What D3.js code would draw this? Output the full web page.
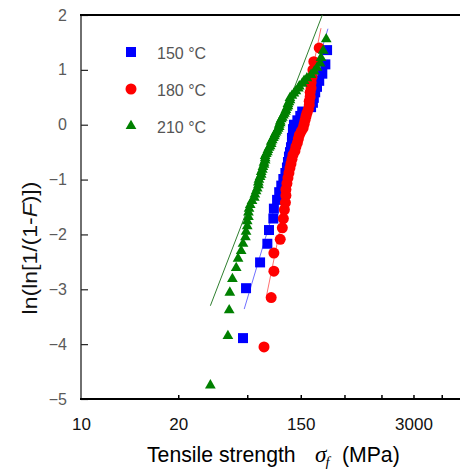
<!DOCTYPE html>
<html>
<head>
<meta charset="utf-8">
<script src="https://cdn.jsdelivr.net/npm/d3@7"></script>
<style>
	body { margin: 0; background: #fff; }
	svg text { font-family: "Liberation Sans", Arial, sans-serif; }
</style>
</head>
<body>
<div id="chart"></div>
<script>
// Weibull plot of tensile strength, one series per temperature.
// strengths in MPa (sorted), plotting positions ln(ln[1/(1-F)])
const series_names = ["150 °C", "180 °C", "210 °C"];
const series_colors = ["#0000ff", "#ff0000", "#008000"];
const line_colors = ["#7070ff", "#ff7070", "#2f7f2f"];

const strength_150 = [393, 398, 422, 435, 438, 446, 447, 453, 457, 461,
	465, 469, 472, 474, 476, 478, 480, 482, 482, 484,
	484, 486, 493, 499, 503, 522, 526, 528, 531, 535,
	540, 547, 554, 558];
const lnln_150 = [-3.89, -2.98, -2.51, -2.17, -1.92, -1.71, -1.53, -1.37, -1.23, -1.11,
	-0.99, -0.88, -0.78, -0.68, -0.58, -0.50, -0.41, -0.33, -0.24, -0.16,
	-0.08, 0.00, 0.08, 0.16, 0.24, 0.32, 0.40, 0.49, 0.59, 0.69,
	0.80, 0.93, 1.10, 1.36];

const strength_180 = [429, 442, 447, 447, 459, 463, 465, 467, 469, 470,
	470, 472, 474, 476, 478, 480, 482, 484, 488, 490,
	493, 495, 497, 501, 505, 507, 509, 511, 513, 516,
	518, 518, 520, 520, 522, 522, 524, 526, 528, 540];
const lnln_180 = [-4.05, -3.15, -2.67, -2.34, -2.09, -1.88, -1.71, -1.55, -1.42, -1.29,
	-1.18, -1.07, -0.97, -0.88, -0.79, -0.71, -0.63, -0.55, -0.48, -0.40,
	-0.33, -0.26, -0.19, -0.12, -0.06, 0.01, 0.08, 0.15, 0.21, 0.28,
	0.36, 0.43, 0.51, 0.59, 0.67, 0.77, 0.87, 1.00, 1.15, 1.40];

const strength_210 = [343, 369, 371, 372, 376, 382, 385, 390, 393, 397,
	398, 400, 400, 402, 402, 403, 405, 408, 412, 413,
	415, 417, 419, 419, 420, 422, 424, 424, 426, 427,
	429, 429, 431, 431, 431, 433, 435, 436, 438, 440,
	442, 442, 444, 446, 448, 449, 451, 453, 455, 457,
	457, 459, 459, 461, 463, 465, 467, 469, 470, 472,
	474, 474, 476, 478, 478, 482, 486, 490, 495, 497,
	503, 507, 513, 522, 529, 535, 542, 544, 549, 556];
const lnln_210 = [-4.75, -3.85, -3.38, -3.06, -2.81, -2.61, -2.44, -2.30, -2.17, -2.05,
	-1.95, -1.85, -1.76, -1.68, -1.60, -1.53, -1.46, -1.39, -1.33, -1.27,
	-1.21, -1.16, -1.10, -1.05, -1.00, -0.95, -0.91, -0.86, -0.82, -0.77,
	-0.73, -0.69, -0.65, -0.61, -0.57, -0.53, -0.50, -0.46, -0.42, -0.39,
	-0.35, -0.31, -0.28, -0.24, -0.21, -0.17, -0.14, -0.11, -0.07, -0.04,
	0.00, 0.03, 0.06, 0.10, 0.13, 0.17, 0.20, 0.24, 0.27, 0.31,
	0.34, 0.38, 0.41, 0.45, 0.49, 0.53, 0.57, 0.61, 0.66, 0.70,
	0.75, 0.80, 0.85, 0.91, 0.97, 1.04, 1.12, 1.22, 1.35, 1.56];

// fitted Weibull lines, end points
const fit_150_x = [395, 560];
const fit_150_y = [-3.36, 1.75];
const fit_180_x = [433, 544];
const fit_180_y = [-3.14, 1.76];
const fit_210_x = [343, 547];
const fit_210_y = [-3.30, 2.00];

// axes
const y_ticks = [2, 1, 0, -1, -2, -3, -4, -5];
const x_minor_ticks = [300, 400, 500, 600, 700, 800, 900];
const x_label_values = [200, 300, 500, 800];
const x_tick_labels = ["10", "20", "150", "3000"];

class weibull_chart {
	constructor(opts) {
		this.element = opts.element;
		this.w = 460;
		this.h = 469;
		this.left = 81;
		this.right = 467;   // right frame is just past the picture edge
		this.top = 15;
		this.bottom = 399;
		this.init();
	}

	init() {
		this.svg = d3.select(this.element).append("svg")
			.attr("width", this.w)
			.attr("height", this.h);

		this.svg.append("defs").append("clipPath")
			.attr("id", "plot_clip")
			.append("rect")
			.attr("x", this.left)
			.attr("y", this.top)
			.attr("width", this.right - this.left)
			.attr("height", this.bottom - this.top);

		this.create_scales();
		this.create_axes();
		this.create_lines();
		this.create_points();
		this.create_legend();
		this.create_titles();
	}

	create_scales() {
		this.x_scale = d3.scaleLog()
			.domain([200, 1000])
			.range([this.left, this.right]);
		this.y_scale = d3.scaleLinear()
			.domain([-5, 2])
			.range([this.bottom, this.top]);
	}

	create_axes() {
		// y axis, ticks pointing in
		const y_axis = this.svg.append("g")
			.attr("class", "y axis")
			.attr("transform", `translate(${this.left},0)`)
			.call(d3.axisLeft(this.y_scale)
				.tickValues(y_ticks)
				.tickSizeInner(-7)
				.tickSizeOuter(0)
				.tickPadding(14)
				.tickFormat(d3.format("d")));
		y_axis.select(".domain").remove();
		y_axis.selectAll("line").attr("stroke", "#222").attr("stroke-width", 1.2);
		y_axis.selectAll("text")
			.attr("font-size", 16)
			.attr("fill", "#5a5a5a")
			.attr("font-family", "Liberation Sans, Arial, sans-serif");

		// x axis minor ticks, pointing in
		const x_axis = this.svg.append("g")
			.attr("class", "x axis")
			.attr("transform", `translate(0,${this.bottom})`)
			.call(d3.axisBottom(this.x_scale)
				.tickValues(x_minor_ticks)
				.tickSizeInner(-4)
				.tickSizeOuter(0)
				.tickFormat(""));
		x_axis.select(".domain").remove();
		x_axis.selectAll("line").attr("stroke", "#000").attr("stroke-width", 1.5);

		// x labels
		const x_labels = this.svg.append("g")
			.attr("class", "x labels")
			.attr("transform", `translate(0,${this.bottom})`)
			.call(d3.axisBottom(this.x_scale)
				.tickValues(x_label_values)
				.tickSize(0)
				.tickPadding(19)
				.tickFormat((d, i) => x_tick_labels[i]));
		x_labels.select(".domain").remove();
		x_labels.selectAll("text")
			.attr("font-size", 17)
			.attr("fill", "#111")
			.attr("font-family", "Liberation Sans, Arial, sans-serif");

		// frame
		const frame = this.svg.append("g").attr("class", "frame");
		frame.append("line")
			.attr("x1", this.left).attr("x2", this.left)
			.attr("y1", this.top).attr("y2", this.bottom)
			.attr("stroke", "#222").attr("stroke-width", 1.3);
		frame.append("line")
			.attr("x1", this.left - 1).attr("x2", this.right)
			.attr("y1", this.top).attr("y2", this.top)
			.attr("stroke", "#000").attr("stroke-width", 2.2);
		frame.append("line")
			.attr("x1", this.left - 1).attr("x2", this.right)
			.attr("y1", this.bottom).attr("y2", this.bottom)
			.attr("stroke", "#000").attr("stroke-width", 2.2);
	}

	create_lines() {
		const fits = [
			{x: fit_150_x, y: fit_150_y, color: line_colors[0]},
			{x: fit_180_x, y: fit_180_y, color: line_colors[1]},
			{x: fit_210_x, y: fit_210_y, color: line_colors[2]}
		];
		const line = d3.line()
			.x(d => this.x_scale(d[0]))
			.y(d => this.y_scale(d[1]));
		this.svg.append("g")
			.attr("clip-path", "url(#plot_clip)")
			.selectAll("path")
			.data(fits)
			.enter()
			.append("path")
			.attr("d", f => line(f.x.map((v, i) => [v, f.y[i]])))
			.attr("fill", "none")
			.attr("stroke", f => f.color)
			.attr("stroke-width", 1);
	}

	create_points() {
		const sets = [
			{x: strength_150, y: lnln_150, type: d3.symbolSquare, size: 100, color: series_colors[0]},
			{x: strength_180, y: lnln_180, type: d3.symbolCircle, size: 95, color: series_colors[1]},
			{x: strength_210, y: lnln_210, type: d3.symbolTriangle, size: 50, color: series_colors[2]}
		];
		sets.forEach(s => {
			const sym = d3.symbol().type(s.type).size(s.size);
			this.svg.append("g")
				.attr("class", "points")
				.selectAll("path")
				.data(s.x.map((v, i) => [v, s.y[i]]))
				.enter()
				.append("path")
				.attr("d", sym)
				.attr("transform", d => `translate(${this.x_scale(d[0])},${this.y_scale(d[1])})`)
				.attr("fill", s.color);
		});
	}

	create_legend() {
		const types = [d3.symbolSquare, d3.symbolCircle, d3.symbolTriangle];
		const sizes = [100, 95, 50];
		const rows = this.svg.append("g")
			.attr("class", "legend")
			.selectAll("g")
			.data(series_names)
			.enter()
			.append("g")
			.attr("transform", (d, i) => `translate(131,${52 + i * 37})`);
		rows.append("path")
			.attr("d", (d, i) => d3.symbol().type(types[i]).size(sizes[i])())
			.attr("fill", (d, i) => series_colors[i]);
		rows.append("text")
			.attr("x", 26)
			.attr("y", 7)
			.attr("font-size", 16)
			.attr("fill", "#555")
			.text(d => d);
	}

	create_titles() {
		// x title: Tensile strength  σf  (MPa)
		const xt = this.svg.append("g")
			.attr("transform", "translate(147,462) scale(0.965,1)")
			.append("text")
			.attr("font-size", 22)
			.attr("fill", "#000");
		xt.append("tspan").text("Tensile strength");
		xt.append("tspan")
			.attr("dx", 20)
			.attr("font-family", "Liberation Serif, serif")
			.attr("font-style", "italic")
			.attr("font-size", 24)
			.text("σ");
		xt.append("tspan")
			.attr("dy", 5)
			.attr("dx", -1)
			.attr("font-family", "Liberation Serif, serif")
			.attr("font-style", "italic")
			.attr("font-size", 15)
			.text("f");
		xt.append("tspan")
			.attr("dy", -5)
			.attr("dx", 13)
			.text("(MPa)");

		// y title
		const yt = this.svg.append("g")
			.attr("transform", "translate(37,248) scale(0.85,1) rotate(-90)")
			.append("text")
			.attr("text-anchor", "middle")
			.attr("font-size", 23)
			.attr("fill", "#111");
		yt.append("tspan").text("ln(ln[1/(1-");
		yt.append("tspan").attr("font-style", "italic").text("F");
		yt.append("tspan").text(")])");
	}
}

new weibull_chart({element: "#chart"});
</script>
</body>
</html>
